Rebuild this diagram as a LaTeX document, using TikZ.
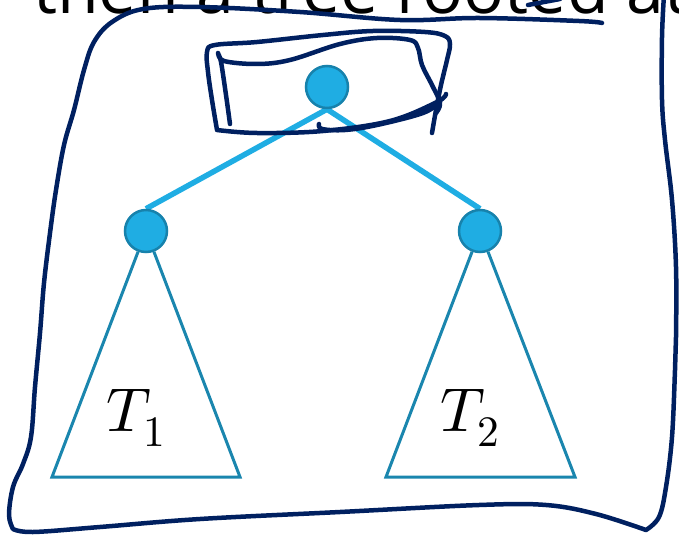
\documentclass[tikz,border=0pt]{standalone}
\usepackage{fontspec}
\usepackage{unicode-math}
\newfontfamily\slidefont{Open Sans}
\definecolor{ink}{HTML}{002060}
\definecolor{nodefill}{HTML}{1FADE3}
\definecolor{nodeline}{HTML}{1782AC}
\definecolor{subline}{HTML}{1A86AE}
\pgfdeclarelayer{back}
\pgfsetlayers{back,main}
\tikzset{
  vertex/.style={circle, fill=nodefill, draw=nodeline, line width=2.5pt, minimum size=42pt, inner sep=0pt},
  treeedge/.style={nodefill, line width=5.5pt},
  subtree/.style={subline, line width=3pt, line join=miter},
  pen/.style={ink, line width=4.5pt, line cap=round, line join=round},
  sublabel/.style={font=\fontsize{62}{66}\selectfont},
}
\begin{document}
\begin{tikzpicture}[x=1pt, y=-1pt]
    \useasboundingbox (0,0) rectangle (679,537);
    \clip (0,0) rectangle (679,537);

    % slide title, cut off at the top
    \node[anchor=base west, inner sep=0pt, font=\slidefont\fontsize{68}{80}\selectfont] (title) at (33,14) {then a tree rooted at};

    % the tree
    \node[vertex] (root) at (327,87) {};
    \node[vertex] (left) at (146,231) {};
    \node[vertex] (right) at (480,231) {};
    \begin{pgfonlayer}{back}
        \draw[treeedge] (root.south) -- (left.north);
        \draw[treeedge] (root.south) -- (right.north);
    \end{pgfonlayer}

    % subtrees T1 and T2
    \coordinate (l1) at (52,477);
    \coordinate (l2) at (240,477);
    \coordinate (r1) at (386,477);
    \coordinate (r2) at (575,477);
    \draw[subtree] (left) -- (l1) -- (l2) -- (left);
    \draw[subtree] (right) -- (r1) -- (r2) -- (right);
    \node[sublabel] (t1) at (136,418) {$T_1$};
    \node[sublabel] (t2) at (470,418) {$T_2$};

    % pen strokes: loop round the whole tree
    \draw[pen] plot[smooth, tension=0.6] coordinates {(664,-5) (662,37) (662,100) (665,140) (672,200) (676,267) (676,337) (675,370) (672,437) (666,487) (659,517) (646,530)}
        plot[smooth, tension=0.6] coordinates {(646,530) (596,514) (546,505) (479,505) (340,512) (200,519) (100,527) (33,532) (13,529)}
        plot[smooth, tension=0.6] coordinates {(13,529) (9,515) (13,487) (23,464) (31,437) (35,387) (40,333) (44,283) (50,233) (56,190) (64,145) (74,110) (84,70) (94,42) (112,22) (143,9) (200,7) (300,12) (400,20) (479,18) (579,21) (602,23)};
    \draw[pen] (528,5) -- (560,-1);

    % pen strokes: box round the root
    \draw[pen] plot[smooth, tension=0.6] coordinates {(432,133) (436,110) (441,85) (447,60) (450,44) (445,36) (425,32) (373,31) (323,35) (257,42) (215,45) (207,52) (208,72) (212,100) (217,130)}
        plot[smooth, tension=0.6] coordinates {(217,130) (257,133) (323,131) (390,121) (437,102) (446,94)};
    \draw[pen] plot[smooth, tension=0.6] coordinates {(230,124) (226,95) (221,62) (218,53) (224,61) (257,64) (290,60) (340,44) (377,38) (410,40) (418,48) (422,65) (432,85) (440,103) (436,113)};
    \draw[pen] plot[smooth, tension=0.6] coordinates {(319,124) (322,129) (345,130) (377,125) (423,113) (440,102)};
\end{tikzpicture}
\end{document}
